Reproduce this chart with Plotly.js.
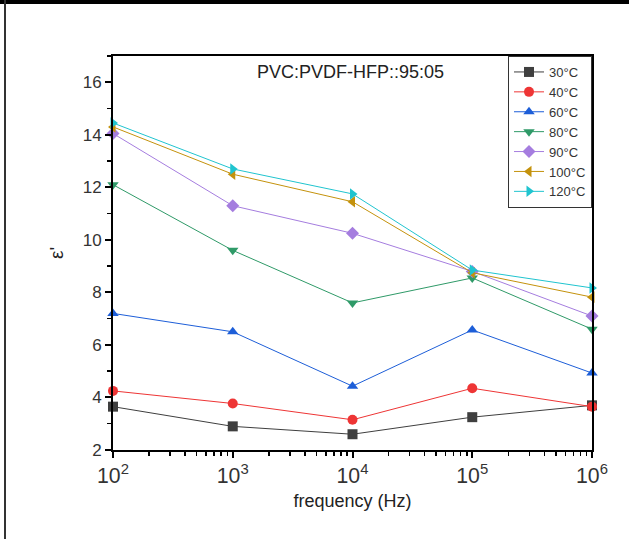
<!DOCTYPE html>
<html>
<head>
<meta charset="utf-8">
<script src="https://cdn.plot.ly/plotly-3.0.1.min.js"></script>
<style>
  html, body { margin: 0; padding: 0; background: #fff; }
  #wrap { position: relative; width: 629px; height: 539px; overflow: hidden; }
  #chart { width: 629px; height: 539px; }
  .bt { position: absolute; left: 0; top: 0; width: 629px; height: 4px; background: #000; }
  .bl { position: absolute; left: 4px; top: 0; width: 2px; height: 539px; background: #333; }
</style>
</head>
<body>
<div id="wrap">
  <div id="chart"></div>
  <div class="bt"></div>
  <div class="bl"></div>
</div>
<script>
// Data
const frequency = [1e2, 1e3, 1e4, 1e5, 1e6];
const seriesNames = ["30°C", "40°C", "60°C", "80°C", "90°C", "100°C", "120°C"];
const eps30  = [3.65, 2.90, 2.60, 3.25, 3.70];
const eps40  = [4.25, 3.77, 3.15, 4.35, 3.65];
const eps60  = [7.20, 6.50, 4.43, 6.57, 4.93];
const eps80  = [12.10, 9.60, 7.60, 8.55, 6.60];
const eps90  = [14.05, 11.30, 10.25, 8.80, 7.10];
const eps100 = [14.30, 12.50, 11.45, 8.75, 7.82];
const eps120 = [14.45, 12.70, 11.75, 8.85, 8.17];
const seriesValues = [eps30, eps40, eps60, eps80, eps90, eps100, eps120];

// Styles
const colors = ["#3f3f3f", "#ee3535", "#1d5ed8", "#2f9a68", "#a57ddf", "#c4920c", "#20c4cf"];
const symbols = ["square", "circle", "triangle-up", "triangle-down", "diamond", "triangle-left", "triangle-right"];

const traces = seriesNames.map((name, i) => ({
  type: "scatter",
  mode: "lines+markers",
  name: name,
  x: frequency,
  y: seriesValues[i],
  line: { color: colors[i], width: 1 },
  marker: { color: colors[i], symbol: symbols[i], size: 10 },
  cliponaxis: false
}));

const fontFam = "Liberation Sans, Arial, sans-serif";

const layout = {
  width: 629,
  height: 539,
  margin: { l: 113, r: 37, t: 56, b: 89 },
  paper_bgcolor: "#fff",
  plot_bgcolor: "#fff",
  font: { family: fontFam, color: "#333", size: 16 },
  showlegend: true,
  legend: {
    x: 1, xanchor: "right", y: 1, yanchor: "top",
    bordercolor: "#333", borderwidth: 1, bgcolor: "#fff",
    font: { family: fontFam, size: 13, color: "#333" },
    itemwidth: 30, tracegroupgap: 0,
    traceorder: "normal"
  },
  xaxis: {
    type: "log",
    range: [2, 6],
    dtick: 1,
    exponentformat: "power",
    showgrid: false,
    zeroline: false,
    showline: true, linecolor: "#000", linewidth: 2, mirror: true,
    ticks: "outside", ticklen: 6, tickwidth: 2, tickcolor: "#000",
    tickfont: { family: fontFam, size: 17, color: "#333" },
    minor: { ticks: "outside", ticklen: 4, tickwidth: 1.5, tickcolor: "#000", dtick: "D1", showgrid: false },
    title: { text: "frequency (Hz)", font: { family: fontFam, size: 18, color: "#222" }, standoff: 8 }
  },
  yaxis: {
    range: [2, 17],
    dtick: 2,
    tick0: 0,
    showgrid: false,
    zeroline: false,
    showline: true, linecolor: "#000", linewidth: 2, mirror: true,
    ticks: "outside", ticklen: 6, tickwidth: 2, tickcolor: "#000",
    tickfont: { family: fontFam, size: 17, color: "#333" },
    minor: { ticks: "outside", ticklen: 4, tickwidth: 1.5, tickcolor: "#000", dtick: 1, showgrid: false },
    title: { text: "ε'", font: { family: fontFam, size: 19, color: "#222" }, standoff: 14 }
  },
  annotations: [{
    text: "PVC:PVDF-HFP::95:05",
    xref: "paper", yref: "paper",
    x: 0.495, y: 0.96, xanchor: "center", yanchor: "middle",
    showarrow: false,
    font: { family: fontFam, size: 18, color: "#222" }
  }]
};

Plotly.newPlot("chart", traces, layout, { displayModeBar: false, staticPlot: true });
</script>
</body>
</html>
